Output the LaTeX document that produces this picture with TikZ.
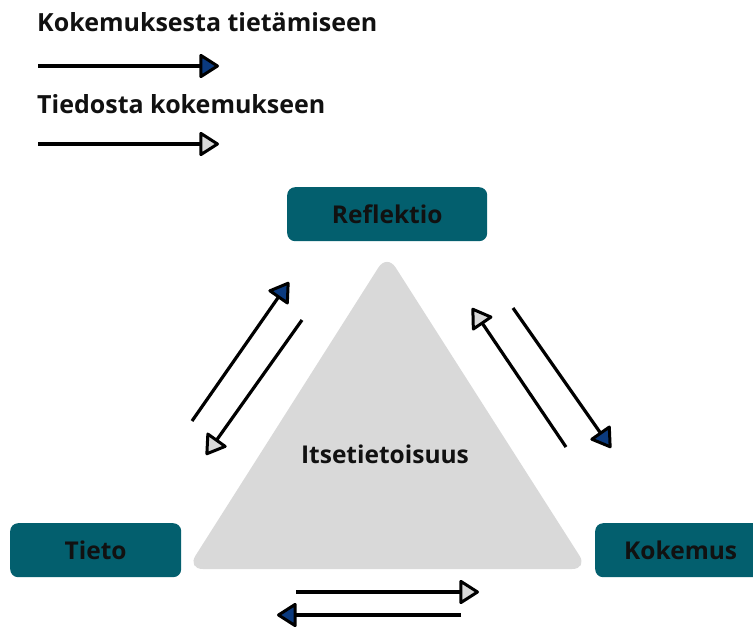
\documentclass[tikz,border=0pt]{standalone}
\usepackage{fontspec}
\setmainfont{Open Sans}
\usetikzlibrary{arrows.meta}
\definecolor{tealbox}{HTML}{035F6E}
\definecolor{trigray}{HTML}{D9D9D9}
\definecolor{navytip}{HTML}{0B3A7E}
\definecolor{txt}{HTML}{111111}
\tikzset{
  box/.style={draw=none, fill=tealbox, rounded corners=8pt, inner sep=0pt, anchor=north west},
  boxtext/.style={text=txt, font=\bfseries\fontsize{24.5}{28}\selectfont, inner sep=0pt},
  lbl/.style={text=txt, font=\bfseries\fontsize{25}{28}\selectfont, inner sep=0pt, anchor=west},
  darkarrow/.style={line width=3.2pt, black, line join=round, -{Triangle[length=21pt,width=26pt,line width=3pt,round,fill=navytip]}},
  lightarrow/.style={line width=3.2pt, black, line join=round, -{Triangle[length=21pt,width=26pt,line width=3pt,round,fill=trigray]}},
}
\begin{document}
\begin{tikzpicture}[x=1pt,y=-1pt]
\useasboundingbox (0,0) rectangle (753,627);
% legend
\node[lbl] (leg1) at (37,22) {Kokemuksesta tietämiseen};
\coordinate (l1a) at (38,66);
\coordinate (l1b) at (219,66);
\draw[darkarrow] (l1a) -- (l1b);
\node[lbl] (leg2) at (37,104) {Tiedosta kokemukseen};
\coordinate (l2a) at (38,144);
\coordinate (l2b) at (219,144);
\draw[lightarrow] (l2a) -- (l2b);
% triangle
\fill[trigray, rounded corners=16pt] (387,254) -- (588,569) -- (187,569) -- cycle;
\node[boxtext] (self) at (385,454) {Itsetietoisuus};
% boxes
\node[box, minimum width=200pt, minimum height=54pt] (refl) at (287,187) {};
\node[boxtext] (reflt) at (refl.center) {Reflektio};
\node[box, minimum width=171pt, minimum height=54pt] (tieto) at (10,523) {};
\node[boxtext] (tietot) at (tieto.center) {Tieto};
\node[box, minimum width=171pt, minimum height=54pt] (kok) at (595,523) {};
\node[boxtext] (kokt) at (kok.center) {Kokemus};
% left pair
\coordinate (a1) at (192,421);
\coordinate (a2) at (289,282);
\draw[darkarrow] (a1) -- (a2);
\coordinate (b1) at (302,320);
\coordinate (b2) at (206,455);
\draw[lightarrow] (b1) -- (b2);
% right pair
\coordinate (c1) at (566,447);
\coordinate (c2) at (472,308);
\draw[lightarrow] (c1) -- (c2);
\coordinate (d1) at (513,308);
\coordinate (d2) at (611,448);
\draw[darkarrow] (d1) -- (d2);
% bottom pair
\coordinate (e1) at (296,592);
\coordinate (e2) at (479,592);
\draw[lightarrow] (e1) -- (e2);
\coordinate (f1) at (461,615);
\coordinate (f2) at (277,615);
\draw[darkarrow] (f1) -- (f2);
\end{tikzpicture}
\end{document}
